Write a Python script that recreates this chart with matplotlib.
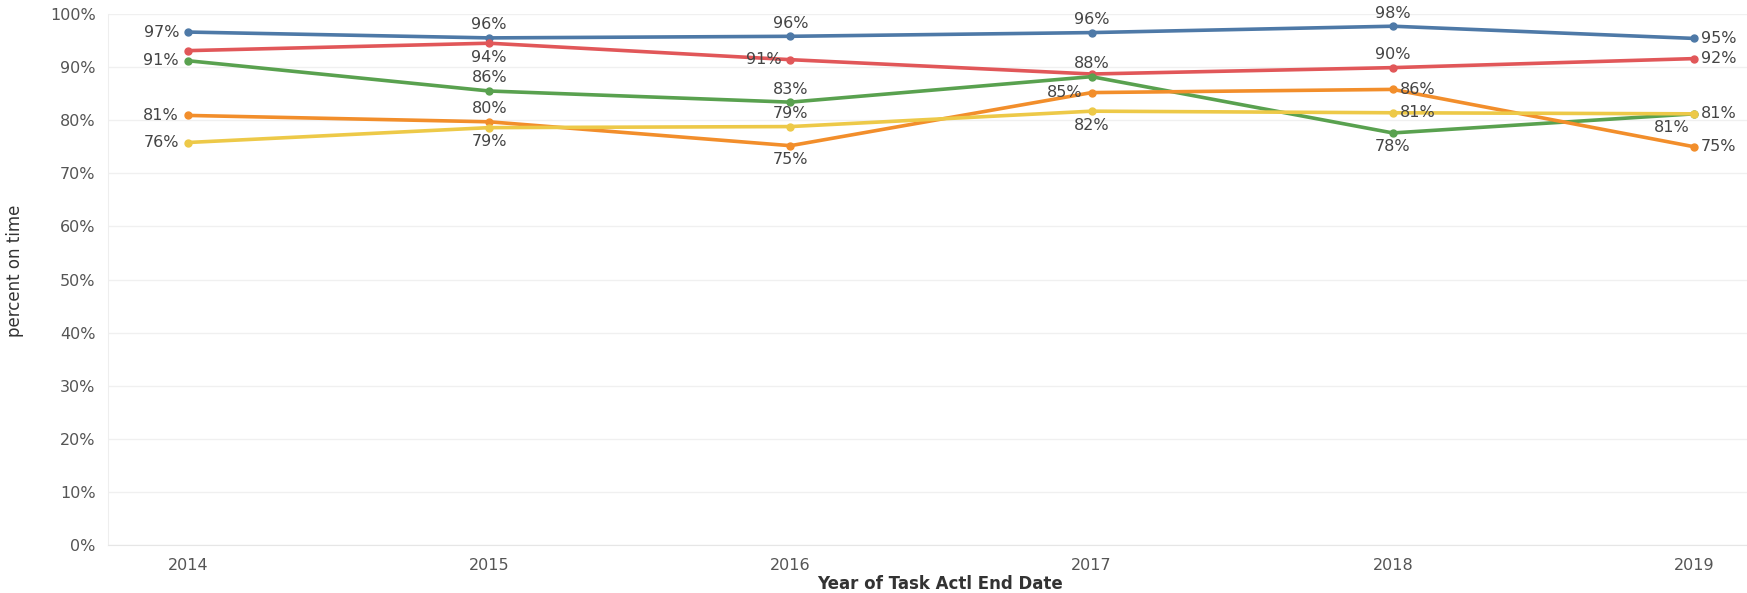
import matplotlib
matplotlib.use("Agg")
import matplotlib.pyplot as plt
from matplotlib.ticker import PercentFormatter

# data
years = [2014, 2015, 2016, 2017, 2018, 2019]
blue = [0.966, 0.955, 0.958, 0.965, 0.977, 0.954]
red = [0.931, 0.945, 0.914, 0.887, 0.899, 0.916]
green = [0.912, 0.855, 0.834, 0.882, 0.776, 0.812]
orange = [0.809, 0.797, 0.752, 0.852, 0.858, 0.750]
yellow = [0.758, 0.786, 0.788, 0.817, 0.814, 0.812]

series = [
    (blue, "#4e79a7", ["l", "a", "a", "a", "a", "r"]),
    (red, "#e15759", [None, "b", "l", None, "a", "r"]),
    (green, "#59a14f", ["l", "a", "a", "a", "b", "r"]),
    (orange, "#f28e2b", ["l", "a", "b", "l", "r", "r"]),
    (yellow, "#edc948", ["l", "b", "a", "b", "r", "bl"]),
]

offsets = {"a": (0, 13, "center"), "b": (0, -14, "center"),
           "l": (-9, 0, "right"), "r": (7, 0, "left"), "bl": (-22, -14, "center")}

W, H = 1747, 593
fig = plt.figure(figsize=(W / 100, H / 100), dpi=100)
ax = fig.add_axes([108 / W, (H - 545) / H, (W - 108) / W, (545 - 14) / H])

for vals, col, places in series:
    ax.plot(years, vals, color=col, lw=2.6, marker="o", ms=5, clip_on=False,
            solid_capstyle="round", zorder=3)
    for x, v, p in zip(years, vals, places):
        if p is None:
            continue
        dx, dy, ha = offsets[p]
        ax.annotate(f"{round(v * 100):.0f}%", (x, v), xytext=(dx, dy),
                    textcoords="offset pixels", ha=ha, va="center",
                    fontsize=11.5, color="#444444", zorder=4)

ax.set_xlim(2014 - 80 / 301.2, 2019 + 53 / 301.2)
ax.set_ylim(0, 1.0)
ax.set_yticks([i / 10 for i in range(11)])
ax.yaxis.set_major_formatter(PercentFormatter(1.0, decimals=0))
ax.set_xticks(years)
ax.set_xticklabels([str(y) for y in years])

ax.grid(axis="y", color="#f0f0f0", lw=1)
ax.set_axisbelow(True)
for s in ["top", "right"]:
    ax.spines[s].set_visible(False)
ax.spines["left"].set_color("#eeeeee")
ax.spines["bottom"].set_color("#e6e6e6")
ax.tick_params(axis="both", length=0, labelsize=11.5, labelcolor="#555555")
ax.tick_params(axis="y", pad=9)
ax.tick_params(axis="x", pad=9)

ax.set_xlabel("Year of Task Actl End Date", fontsize=12, color="#333333",
              fontweight="bold")
ax.xaxis.set_label_coords((940 - 108) / (W - 108), -(584 - 545) / (545 - 14))
ax.xaxis.label.set_va("center")
ax.set_ylabel("percent on time", fontsize=12,
              family=["Liberation Sans Narrow", "DejaVu Sans"], color="#333333")
ax.yaxis.set_label_coords(-84 / (W - 108), (545 - 271) / (545 - 14))

fig.savefig("out.png", dpi=100)
